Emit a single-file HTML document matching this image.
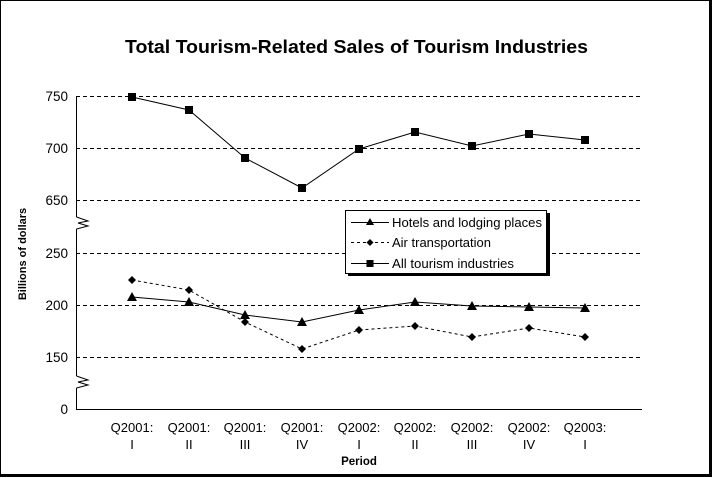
<!DOCTYPE html>
<html><head><style>body{margin:0;background:#fff}svg{display:block}text{font-family:"Liberation Sans",Arial,sans-serif}</style></head>
<body>
<svg width="713" height="478" viewBox="0 0 713 478" xmlns="http://www.w3.org/2000/svg">
<rect x="0" y="0" width="713" height="478" fill="#fff"/>
<rect x="0.5" y="0.5" width="709" height="474" fill="none" stroke="#000" stroke-width="1"/>
<rect x="709" y="0" width="3" height="477" fill="#000"/>
<rect x="0" y="474" width="712" height="3" fill="#000"/>
<text x="125" y="53" font-size="18.5" font-weight="bold" textLength="463" lengthAdjust="spacingAndGlyphs">Total Tourism-Related Sales of Tourism Industries</text>
<g stroke="#000" stroke-width="1" stroke-dasharray="4,3">
<line x1="76" y1="96.5" x2="642" y2="96.5"/>
<line x1="76" y1="148.5" x2="642" y2="148.5"/>
<line x1="76" y1="200.5" x2="642" y2="200.5"/>
<line x1="76" y1="253.5" x2="642" y2="253.5"/>
<line x1="76" y1="305.5" x2="642" y2="305.5"/>
<line x1="76" y1="357.5" x2="642" y2="357.5"/>
</g>
<g stroke="#000" stroke-width="1" fill="none">
<line x1="76.5" y1="96" x2="76.5" y2="217"/>
<polyline points="76.5,217 88,221 78,223 88,226 76.5,229"/>
<line x1="76.5" y1="229" x2="76.5" y2="376"/>
<polyline points="76.5,376 88,380 78,382 88,385 76.5,388"/>
<line x1="76.5" y1="388" x2="76.5" y2="409"/>
<line x1="76" y1="409.5" x2="642" y2="409.5"/>
</g>
<g font-size="13.5" text-anchor="end">
<text x="68" y="101">750</text><text x="68" y="153">700</text><text x="68" y="205">650</text>
<text x="68" y="258">250</text><text x="68" y="310">200</text><text x="68" y="362">150</text><text x="68" y="414">0</text>
</g>
<text transform="translate(26,254) rotate(-90)" font-size="11" font-weight="bold" text-anchor="middle">Billions of dollars</text>
<g font-size="13" text-anchor="middle">
<text x="132" y="432">Q2001:</text><text x="132" y="449">I</text>
<text x="189" y="432">Q2001:</text><text x="189" y="449">II</text>
<text x="245" y="432">Q2001:</text><text x="245" y="449">III</text>
<text x="302" y="432">Q2001:</text><text x="302" y="449">IV</text>
<text x="359" y="432">Q2002:</text><text x="359" y="449">I</text>
<text x="415" y="432">Q2002:</text><text x="415" y="449">II</text>
<text x="472" y="432">Q2002:</text><text x="472" y="449">III</text>
<text x="529" y="432">Q2002:</text><text x="529" y="449">IV</text>
<text x="585" y="432">Q2003:</text><text x="585" y="449">I</text>
</g>
<text x="359" y="465" font-size="11.5" font-weight="bold" text-anchor="middle">Period</text>
<g fill="none" stroke="#000" stroke-width="1">
<polyline points="132,97 189,110 245,158 302,188 359,149 415,132 472,146 529,134 585,140"/>
<polyline points="132,297 189,302 245,315 302,322 359,310 415,302 472,306 529,307 585,308"/>
<polyline stroke-dasharray="3,3" points="132,280 189,290 245,322 302,349 359,330 415,326 472,337 529,328 585,337"/>
</g>
<g fill="#000">
<rect x="128" y="93" width="8" height="8"/><rect x="185" y="106" width="8" height="8"/><rect x="241" y="154" width="8" height="8"/><rect x="298" y="184" width="8" height="8"/><rect x="355" y="145" width="8" height="8"/><rect x="411" y="128" width="8" height="8"/><rect x="468" y="142" width="8" height="8"/><rect x="525" y="130" width="8" height="8"/><rect x="581" y="136" width="8" height="8"/>
<polygon points="132,292 137,301 127,301"/><polygon points="189,297 194,306 184,306"/><polygon points="245,310 250,319 240,319"/><polygon points="302,317 307,326 297,326"/><polygon points="359,305 364,314 354,314"/><polygon points="415,297 420,306 410,306"/><polygon points="472,301 477,310 467,310"/><polygon points="529,302 534,311 524,311"/><polygon points="585,303 590,312 580,312"/>
<polygon points="132,276 136,280 132,284 128,280"/><polygon points="189,286 193,290 189,294 185,290"/><polygon points="245,318 249,322 245,326 241,322"/><polygon points="302,345 306,349 302,353 298,349"/><polygon points="359,326 363,330 359,334 355,330"/><polygon points="415,322 419,326 415,330 411,326"/><polygon points="472,333 476,337 472,341 468,337"/><polygon points="529,324 533,328 529,332 525,328"/><polygon points="585,333 589,337 585,341 581,337"/>
</g>
<rect x="348" y="213" width="202" height="63" fill="#000"/>
<rect x="345.5" y="210.5" width="201" height="63" fill="#fff" stroke="#000"/>
<g stroke="#000" fill="none">
<line x1="351" y1="222.5" x2="389" y2="222.5"/>
<line x1="351" y1="242.5" x2="389" y2="242.5" stroke-dasharray="3,3"/>
<line x1="351" y1="263.5" x2="389" y2="263.5"/>
</g>
<polygon points="370,218 374,225 366,225" fill="#000"/>
<polygon points="370,239 373.5,242.5 370,246 366.5,242.5" fill="#000"/>
<rect x="366.5" y="260" width="7" height="7" fill="#000"/>
<g font-size="13">
<text x="392" y="227" textLength="150" lengthAdjust="spacingAndGlyphs">Hotels and lodging places</text>
<text x="392" y="247" textLength="99" lengthAdjust="spacingAndGlyphs">Air transportation</text>
<text x="392" y="268" textLength="122" lengthAdjust="spacingAndGlyphs">All tourism industries</text>
</g>
</svg>
</body></html>
